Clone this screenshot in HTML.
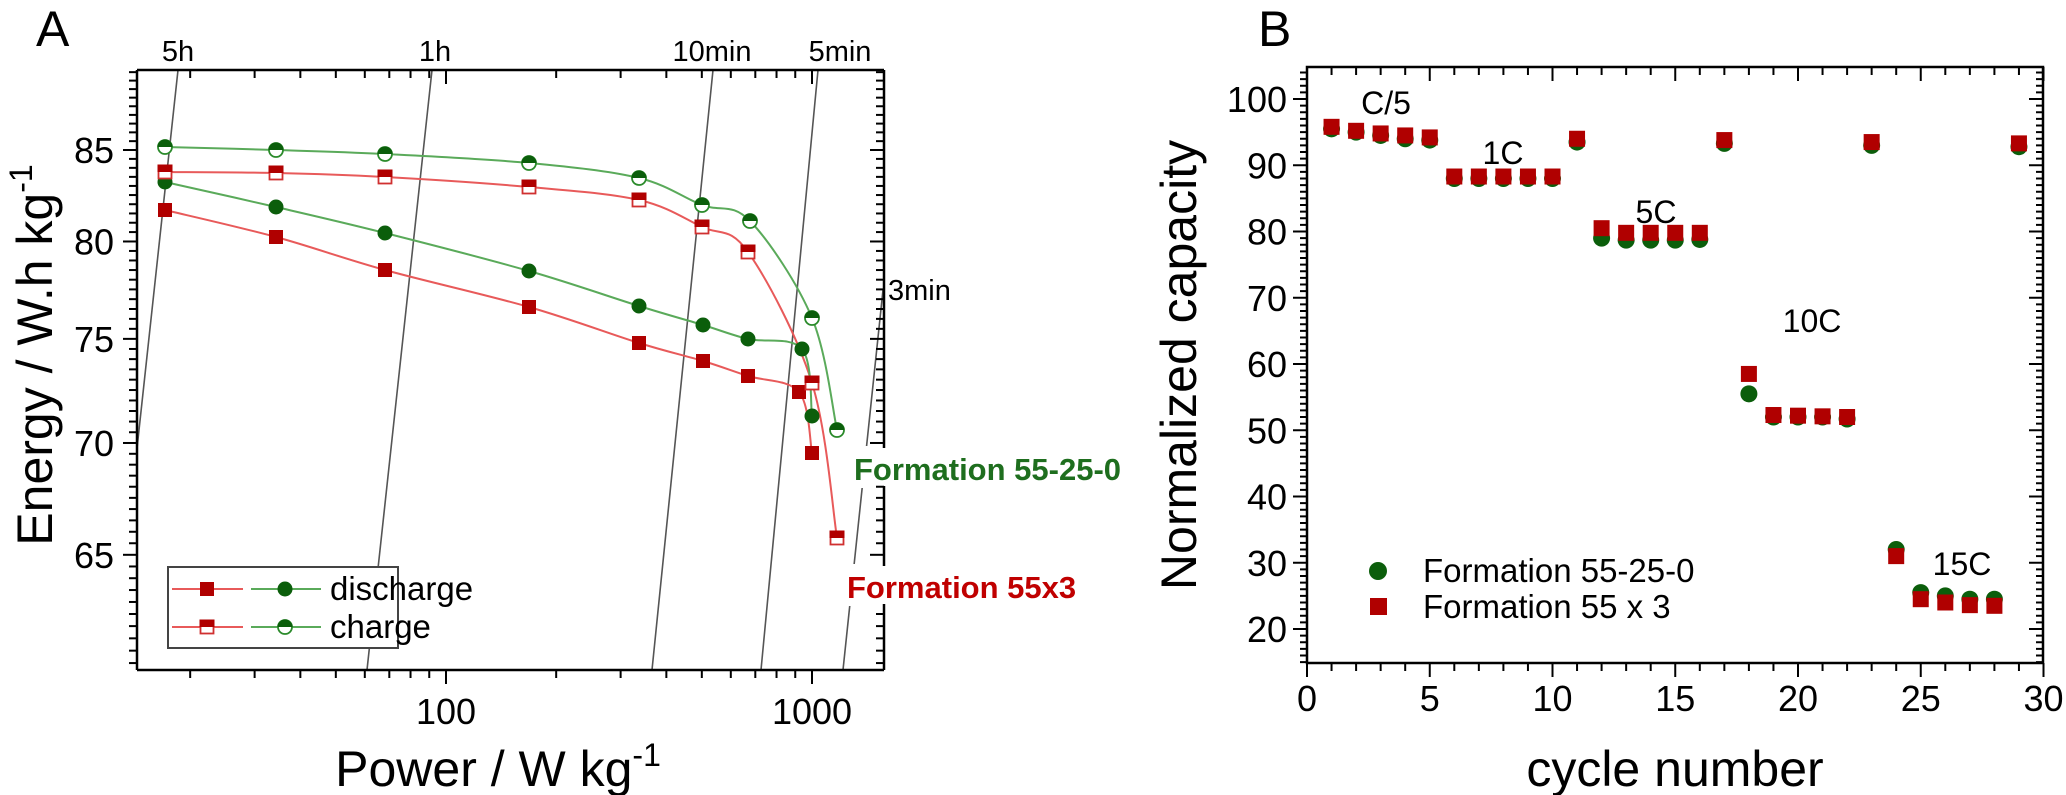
<!DOCTYPE html>
<html><head><meta charset="utf-8"><style>
html,body{margin:0;padding:0;background:#fff}
svg{display:block}
text{font-family:"Liberation Sans",Arial,sans-serif;fill:#000}
</style></head><body>
<svg id="s" width="2066" height="795" viewBox="0 0 2066 795" xmlns="http://www.w3.org/2000/svg">
<defs>
<clipPath id="ca"><rect x="137" y="70" width="747" height="600"/></clipPath>
</defs>
<g id="A"></g>
<g id="B"></g>
<text x="36" y="46" font-size="50">A</text>
<text x="1258" y="46" font-size="50">B</text>
</svg>
<script>
const NS="http://www.w3.org/2000/svg";
function el(p,t,a,txt){const e=document.createElementNS(NS,t);for(const k in a)e.setAttribute(k,a[k]);if(txt!==undefined)e.textContent=txt;p.appendChild(e);return e;}
const A=document.getElementById('A'),B=document.getElementById('B');
const X=P=>812+366*Math.log10(P/1000), Y=E=>150-1509*Math.log(E/85);
const iso=el(A,'g',{'clip-path':'url(#ca)',stroke:'#555','stroke-width':1.6});
[[178,113],[432,367],[713,652],[818,761]].forEach(([a,b])=>el(iso,'line',{x1:a,y1:70,x2:b,y2:670}));
el(iso,'line',{x1:843,y1:670,x2:883,y2:290});
el(A,'rect',{x:850,y:446,width:300,height:42,fill:'#fff'});
el(A,'rect',{x:843,y:564,width:250,height:42,fill:'#fff'});
const ax=el(A,'g',{stroke:'#000','stroke-width':2.5,fill:'none'});
el(ax,'line',{x1:137,y1:70,x2:884,y2:70});el(ax,'line',{x1:137,y1:670,x2:884,y2:670});
el(ax,'line',{x1:137,y1:70,x2:137,y2:670});
el(ax,'line',{x1:884,y1:70,x2:884,y2:448});el(ax,'line',{x1:884,y1:486,x2:884,y2:566});el(ax,'line',{x1:884,y1:604,x2:884,y2:670});
const tk=el(A,'g',{stroke:'#000','stroke-width':2});
for(let d of [10,100,1000]){for(let m=1;m<10;m++){const p=d*m;const x=X(p);if(x<137||x>884)continue;const L=(m==1)?14:8;
 el(tk,'line',{x1:x,y1:670,x2:x,y2:670+L});el(tk,'line',{x1:x,y1:70,x2:x,y2:70+L});}}
for(let e=60;e<=90;e+=0.5){const y=Y(e);if(y<70||y>670)continue;const maj=(e%5==0);const L=maj?14:8;
 el(tk,'line',{x1:137,y1:y,x2:137-L,y2:y});
 if(!((y>448&&y<486)||(y>566&&y<604)))el(tk,'line',{x1:884,y1:y,x2:884-L,y2:y});
 if(maj&&e>=65&&e<=85)el(A,'text',{x:114,y:y+13,'font-size':36,'text-anchor':'end'},String(e));}
el(A,'text',{x:446,y:724,'font-size':36,'text-anchor':'middle'},'100');
el(A,'text',{x:812,y:724,'font-size':36,'text-anchor':'middle'},'1000');
[['5h',178],['1h',435],['10min',712],['5min',840]].forEach(([t,x])=>el(A,'text',{x:x,y:61,'font-size':29,'text-anchor':'middle'},t));
el(A,'text',{x:888,y:300,'font-size':29},'3min');
const t1=el(A,'text',{x:0,y:0,'font-size':50,'text-anchor':'middle',transform:'translate(52,355) rotate(-90)'},'Energy / W.h kg');
el(t1,'tspan',{dy:-20,'font-size':32},'-1');
const t2=el(A,'text',{x:498,y:786,'font-size':50,'text-anchor':'middle'},'Power / W kg');
el(t2,'tspan',{dy:-20,'font-size':32},'-1');
el(A,'text',{x:854,y:480,'font-size':31,'font-weight':'bold',style:'fill:#1e6e1e'},'Formation 55-25-0');
el(A,'text',{x:847,y:598,'font-size':31,'font-weight':'bold',style:'fill:#c00000'},'Formation 55x3');
function cr(pts){let d='M'+pts[0][0]+','+pts[0][1];for(let i=0;i<pts.length-1;i++){const p0=pts[Math.max(0,i-1)],p1=pts[i],p2=pts[i+1],p3=pts[Math.min(pts.length-1,i+2)];
 const c1=[p1[0]+(p2[0]-p0[0])/6,p1[1]+(p2[1]-p0[1])/6],c2=[p2[0]-(p3[0]-p1[0])/6,p2[1]-(p3[1]-p1[1])/6];d+=' C'+c1+' '+c2+' '+p2;}return d;}
const GC=[[165,147],[276,150],[385,154],[529,163],[639,178],[702,205],[750,221],[812,318],[837,430]];
const RC=[[165,172],[276,173],[385,177],[529,187],[639,200],[702,227],[748,252],[812,383],[837,538]];
const GD=[[165,182],[276,207],[385,233],[529,271],[639,306],[703,325],[748,339],[802,349],[812,416]];
const RD=[[165,210],[276,237],[385,270],[529,307],[639,343],[703,361],[748,376],[799,392],[812,453]];
const GL='#5aaa5a',RL='#e85a5a',GM='#0b5e0b',RM='#b00000';
[[GC,GL],[RC,RL],[GD,GL],[RD,RL]].forEach(([p,c])=>el(A,'path',{d:cr(p),fill:'none',stroke:c,'stroke-width':2}));
function circ(g,x,y,half){if(!half){el(g,'circle',{cx:x,cy:y,r:7.5,fill:GM});return;}
 el(g,'circle',{cx:x,cy:y,r:7,fill:'#fff',stroke:'#2a8a2a','stroke-width':1.8});el(g,'path',{d:`M${x-7.5},${y} A7.5,7.5 0 0 1 ${x+7.5},${y} Z`,fill:GM});}
function sq(g,x,y,half){if(!half){el(g,'rect',{x:x-7,y:y-7,width:14,height:14,fill:RM});return;}
 el(g,'rect',{x:x-6.5,y:y-6.5,width:13,height:13,fill:'#fff',stroke:'#d03030','stroke-width':1.8});el(g,'rect',{x:x-7.5,y:y-7.5,width:15,height:7.5,fill:RM});}
GD.forEach(p=>circ(A,p[0],p[1],0));RD.forEach(p=>sq(A,p[0],p[1],0));
GC.forEach(p=>circ(A,p[0],p[1],1));RC.forEach(p=>sq(A,p[0],p[1],1));
el(A,'rect',{x:168,y:567,width:230,height:81,fill:'#fff',stroke:'#444','stroke-width':2});
[[589,0],[627,1]].forEach(([y,h])=>{el(A,'line',{x1:172,y1:y,x2:243,y2:y,stroke:RL,'stroke-width':2});el(A,'line',{x1:251,y1:y,x2:321,y2:y,stroke:GL,'stroke-width':2});
 sq(A,207,y,h);circ(A,285,y,h);});
el(A,'text',{x:330,y:600,'font-size':33},'discharge');
el(A,'text',{x:330,y:638,'font-size':33},'charge');

// Panel B
const bx=c=>1307+24.55*c, by=v=>629-(v-20)*6.625;
const bax=el(B,'g',{stroke:'#000','stroke-width':2.5,fill:'none'});
el(bax,'rect',{x:1307,y:67,width:736,height:596});
const bt=el(B,'g',{stroke:'#000','stroke-width':2});
for(let c=0;c<=30;c++){const x=bx(c),L=c%5==0?14:8;el(bt,'line',{x1:x,y1:663,x2:x,y2:663+L});el(bt,'line',{x1:x,y1:67,x2:x,y2:67+L});
 if(c%5==0)el(B,'text',{x:x,y:711,'font-size':36,'text-anchor':'middle'},String(c));}
for(let v=15;v<=104;v++){const y=by(v),L=v%10==0?14:7;el(bt,'line',{x1:1307,y1:y,x2:1307-L,y2:y});el(bt,'line',{x1:2043,y1:y,x2:2043-L,y2:y});
 if(v%10==0&&v>=20&&v<=100)el(B,'text',{x:1287,y:y+13,'font-size':36,'text-anchor':'end'},String(v));}
el(B,'text',{x:0,y:0,'font-size':50,'text-anchor':'middle',transform:'translate(1196,365) rotate(-90)'},'Normalized capacity');
el(B,'text',{x:1675,y:786,'font-size':50,'text-anchor':'middle'},'cycle number');
const G=[95.5,95,94.5,94,93.8,88,88,88,88,88,93.5,79,78.7,78.7,78.7,78.8,93.3,55.5,52,52,52,51.7,93,32,25.5,25,24.5,24.5,92.8];
const R=[95.8,95.2,94.8,94.5,94.2,88.3,88.3,88.3,88.3,88.3,94,80.5,79.8,79.8,79.8,79.8,93.8,58.5,52.3,52.2,52.1,52,93.5,31,24.5,24,23.6,23.5,93.3];
G.forEach((v,i)=>el(B,'circle',{cx:bx(i+1),cy:by(v),r:8.5,fill:GM}));
R.forEach((v,i)=>el(B,'rect',{x:bx(i+1)-8,y:by(v)-8,width:16,height:16,fill:RM}));
[['C/5',1386,114],['1C',1503,164],['5C',1656,223],['10C',1812,332],['15C',1962,575]].forEach(([t,x,y])=>el(B,'text',{x:x,y:y,'font-size':32,'text-anchor':'middle'},t));
el(B,'circle',{cx:1378,cy:571,r:9,fill:GM});
el(B,'rect',{x:1370,y:598,width:17,height:17,fill:RM});
el(B,'text',{x:1423,y:582,'font-size':33},'Formation 55-25-0');
el(B,'text',{x:1423,y:618,'font-size':33},'Formation 55 x 3');
</script>
</body></html>
